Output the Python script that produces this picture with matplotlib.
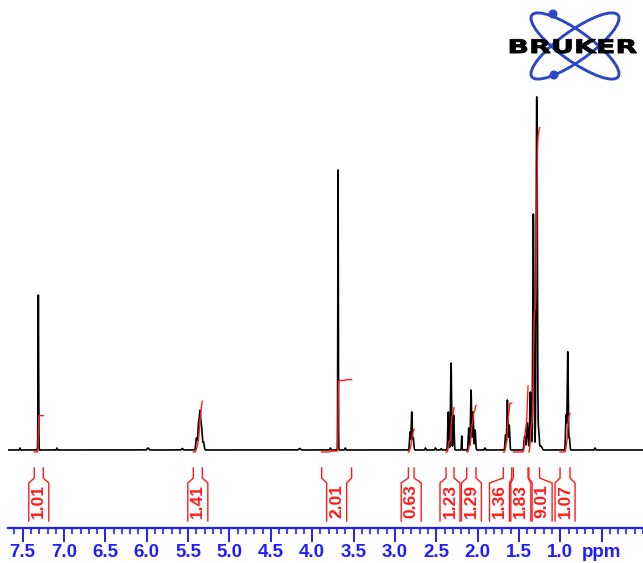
import numpy as np
import matplotlib
matplotlib.use("Agg")
import matplotlib.pyplot as plt
from matplotlib.patches import Ellipse, Circle, PathPatch
from matplotlib.textpath import TextPath
from matplotlib.font_manager import FontProperties
from matplotlib.transforms import Affine2D

# peaks: shift [ppm], height [px above baseline], width [ppm]
peak_ppm = [7.533, 7.311, 7.085, 5.985, 5.57,
            5.399, 5.374, 5.356, 5.338, 5.314,
            4.15, 3.78, 3.687, 3.60,
            2.817, 2.796, 2.777, 2.63, 2.51, 2.44,
            2.354, 2.321, 2.290, 2.192,
            2.107, 2.079, 2.055, 2.030, 1.91,
            1.662, 1.640, 1.618,
            1.43, 1.398, 1.362, 1.326, 1.285, 1.262, 1.235,
            0.930, 0.910, 0.890, 0.58]
peak_height = [2, 155, 2, 2, 1.5,
               12, 25, 36, 22, 8,
               1.5, 2, 280, 2,
               18, 38, 12, 2, 2, 1.5,
               38, 87, 35, 14,
               22, 60, 38, 20, 2,
               15, 50, 25,
               14, 27, 58, 236, 353, 20, 4,
               35, 98, 12, 2]
peak_width = [0.004, 0.0035, 0.004, 0.01, 0.008,
              0.008, 0.008, 0.008, 0.008, 0.008,
              0.01, 0.005, 0.003, 0.005,
              0.006, 0.006, 0.006, 0.005, 0.005, 0.005,
              0.006, 0.006, 0.006, 0.003,
              0.006, 0.006, 0.006, 0.006, 0.005,
              0.006, 0.006, 0.006,
              0.008, 0.008, 0.007, 0.007, 0.007, 0.007, 0.012,
              0.006, 0.006, 0.006, 0.005]

# integral regions (ppm, left and right edge) and their values
int_left = [7.360, 5.437, 3.885, 2.837, 2.382, 2.131, 1.689, 1.568, 1.380, 1.003]
int_right = [7.251, 5.328, 3.523, 2.768, 2.285, 2.019, 1.587, 1.390, 1.250, 0.882]
int_value = [1.01, 1.41, 2.01, 0.63, 1.23, 1.29, 1.36, 1.83, 9.01, 1.07]

major_ticks = [7.5, 7.0, 6.5, 6.0, 5.5, 5.0, 4.5, 4.0, 3.5, 3.0, 2.5, 2.0, 1.5, 1.0, 0.5]
major_labels = ["7.5", "7.0", "6.5", "6.0", "5.5", "5.0", "4.5", "4.0",
                "3.5", "3.0", "2.5", "2.0", "1.5", "1.0", "ppm"]

blue = "#1f1fff"
red = "#ff1a1a"
px_per_ppm = 82.7

ppm = np.arange(7.674, -0.0005, -0.0005)
spec = np.zeros_like(ppm)
for p, h, w in zip(peak_ppm, peak_height, peak_width):
    spec += h * np.exp(-0.5 * ((ppm - p) / w) ** 2)

fig = plt.figure(figsize=(6.43, 5.63), dpi=100)
ax = fig.add_axes([8.3 / 643, (563 - 527.7) / 563, 1 - 8.3 / 643, 527.7 / 563])
ax.set_xlim(7.674, 0.0)
ax.set_ylim(-77.7, 450)
for s in ["left", "right", "top"]:
    ax.spines[s].set_visible(False)
ax.spines["bottom"].set_color(blue)
ax.spines["bottom"].set_linewidth(1.6)
ax.set_yticks([])

ax.set_xticks(major_ticks, major_labels)
ax.set_xticks(np.arange(0.0, 7.65, 0.1), minor=True)
ax.tick_params(axis="x", which="major", length=10, width=1.4, color=blue,
               labelcolor=blue, pad=2, labelsize=13.5)
ax.tick_params(axis="x", which="minor", length=4, width=1.2, color=blue)
for t in ax.get_xticklabels():
    t.set_fontfamily("Liberation Sans")
    t.set_fontweight("bold")

ax.plot(ppm, spec, color="black", lw=1.2, zorder=2)

# integral curves
scale = 36.0
for l, r, v in zip(int_left, int_right, int_value):
    m = (ppm <= l) & (ppm >= r)
    cum = np.cumsum(spec[m])
    ax.plot(ppm[m], -2 + v * scale * cum / cum[-1], color=red, lw=1.0, zorder=3)

# label boxes, pushed apart where they would overlap
half = 10 / px_per_ppm
gap = 21.3 / px_per_ppm
centers = [(l + r) / 2 for l, r in zip(int_left, int_right)]
clusters = [[c] for c in centers]
changed = True
while changed:
    changed = False
    pos = []
    for cl in clusters:
        mid = np.mean(cl)
        n = len(cl)
        pos.append([mid + gap * (n - 1) / 2 - gap * i for i in range(n)])
    for i in range(len(clusters) - 1):
        if pos[i][-1] - pos[i + 1][0] < gap - 1e-9:
            clusters[i] = clusters[i] + clusters[i + 1]
            del clusters[i + 1]
            changed = True
            break
box_c = [p for ps in pos for p in ps]

for l, r, v, c in zip(int_left, int_right, int_value, box_c):
    for edge, bx in ((l, c + half), (r, c - half)):
        ax.plot([edge, edge, bx, bx], [-18, -28, -33, -71], color=red, lw=1.0,
                solid_joinstyle="miter", clip_on=False)
    ax.text(c, -51, f"{v:.2f}", rotation=90, ha="center", va="center",
            color=red, fontsize=12.5, family="Liberation Sans", weight="bold")

# logo
ov = fig.add_axes([0, 0, 1, 1], zorder=5)
ov.set_xlim(0, 643)
ov.set_ylim(563, 0)
ov.axis("off")
logo_blue = "#2c48c4"
for ang in (35.5, -35.5):
    ov.add_patch(Ellipse((575, 46), 106, 30, angle=ang, fill=False,
                         ec=logo_blue, lw=2.1))
for cx, cy in ((553, 14), (554, 75)):
    ov.add_patch(Circle((cx, cy), 3.8, color=logo_blue))
tp = TextPath((0, 0), "BRUKER", size=1,
              prop=FontProperties(family="DejaVu Sans", weight="bold"))
bb = tp.get_extents()
tr = (Affine2D().translate(-bb.x0, -bb.y0)
      .scale(126.7 / bb.width, -14 / bb.height)
      .translate(510, 53.3) + ov.transData)
ov.add_patch(PathPatch(tp, fc="black", ec="black", lw=0.6, transform=tr))

fig.savefig("out.png", dpi=100)
